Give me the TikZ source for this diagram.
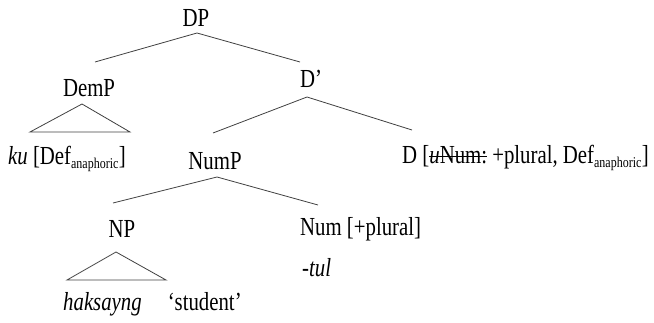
\documentclass[tikz,border=0pt]{standalone}
\usepackage{fontspec}
\setmainfont{Liberation Serif}[FakeStretch=0.8]
\tikzset{
  lab/.style={inner sep=0pt, font=\fontsize{26}{28}\selectfont},
  branch/.style={draw=black!75, line width=0.8pt},
}
\newcommand{\subanaph}{\textsubscript{\fontsize{15}{16}\selectfont anaphoric}}
% struck-through text: a thin rule laid across the box
\newsavebox{\strikebox}
\newcommand{\strikethru}[1]{\sbox{\strikebox}{#1}%
  \rlap{\raisebox{0.26em}{\rule{\wd\strikebox}{0.05em}}}\usebox{\strikebox}}
\begin{document}
\begin{tikzpicture}[x=1pt,y=-1pt]
\useasboundingbox (0,0) rectangle (654,323);

% category labels
\node[lab] (dp) at (196,18) {DP};
\node[lab] (demp) at (89,88) {DemP};
\node[lab] (dbar) at (311,79) {D’};
\node[lab,anchor=west] (ku) at (8,159) {\textit{ku} [Def\subanaph]};
\node[lab] (nump) at (215,161) {NumP};
\node[lab,anchor=west] (dhead) at (402,158) {D [\strikethru{\textit{u}Num:} +plural, Def\subanaph]};
\node[lab] (np) at (122,229) {NP};
\node[lab,anchor=west] (num) at (300,229) {Num [+plural]};
\node[lab,anchor=west] (tul) at (302,268) {-\textit{tul}};
\node[lab,anchor=west] (hak) at (63,304) {\textit{haksayng}\quad‘student’};

% branch points
\coordinate (dpTop) at (197,33);
\coordinate (dpL) at (95,62);
\coordinate (dpR) at (300,62);
\coordinate (dbarTop) at (307,97);
\coordinate (dbarL) at (213,133);
\coordinate (dbarR) at (412,130);
\coordinate (numpTop) at (217,177);
\coordinate (numpL) at (113,203);
\coordinate (numpR) at (318,205);

\draw[branch] (dpL) -- (dpTop) -- (dpR);
\draw[branch] (dbarL) -- (dbarTop) -- (dbarR);
\draw[branch] (numpL) -- (numpTop) -- (numpR);

% triangles for unanalysed phrases
\coordinate (demTop) at (82,104);
\coordinate (demL) at (30,132);
\coordinate (demR) at (130,132);
\draw[branch] (demL) -- (demTop) -- (demR) -- cycle;

\coordinate (npTop) at (116,252);
\coordinate (npL) at (67,280);
\coordinate (npR) at (166,280);
\draw[branch] (npL) -- (npTop) -- (npR) -- cycle;
\end{tikzpicture}
\end{document}
